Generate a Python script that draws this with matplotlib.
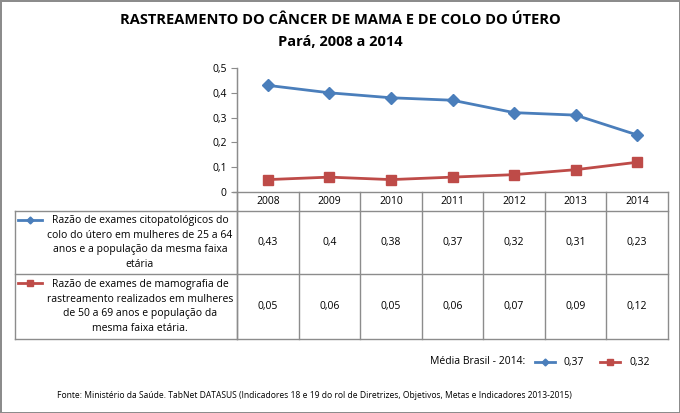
import matplotlib
matplotlib.use("Agg")
import matplotlib.pyplot as plt
import numpy as np

plt.rcParams['font.family'] = ['Open Sans', 'DejaVu Sans']

# data
anos = ["2008", "2009", "2010", "2011", "2012", "2013", "2014"]
citopatologico = [0.43, 0.40, 0.38, 0.37, 0.32, 0.31, 0.23]
mamografia = [0.05, 0.06, 0.05, 0.06, 0.07, 0.09, 0.12]
rotulos = ["Razão de exames citopatológicos do\ncolo do útero em mulheres de 25 a 64\nanos e a população da mesma faixa\netária",
           "Razão de exames de mamografia de\nrastreamento realizados em mulheres\nde 50 a 69 anos e população da\nmesma faixa etária."]
media_brasil = [0.37, 0.32]
azul = "#4A7EBB"
vermelho = "#BE4B48"
cinza = "#8C8C8C"

W, H = 680, 413
fig = plt.figure(figsize=(W / 100, H / 100), dpi=100)
fig.patch.set_edgecolor(cinza)
fig.patch.set_linewidth(2)

def fx(px):
    return px / W

def fy(py):
    return 1 - py / H

# plot area (pixel layout)
x0, x1 = 237, 668
ytop, ybase = 68, 192
ax = fig.add_axes([fx(x0), fy(ybase), fx(x1) - fx(x0), fy(ytop) - fy(ybase)])
x = np.arange(len(anos))
ax.plot(x, citopatologico, color=azul, lw=2, marker="D", ms=6)
ax.plot(x, mamografia, color=vermelho, lw=2, marker="s", ms=7)
ax.set_xlim(-0.5, len(anos) - 0.5)
ax.set_ylim(0, 0.5)
ax.set_yticks(np.arange(0, 0.51, 0.1))
ax.set_yticklabels([("%.1f" % v).replace(".", ",") if v > 0 else "0" for v in np.arange(0, 0.51, 0.1)])
ax.set_xticks([])
for s in ["top", "right", "bottom"]:
    ax.spines[s].set_visible(False)
ax.spines["left"].set_color(cinza)
ax.tick_params(axis="y", colors=cinza, labelcolor="black", labelsize=7.5, length=4, direction="out")
ax.patch.set_alpha(0)

# overlay in pixel coordinates for the data table
ov = fig.add_axes([0, 0, 1, 1])
ov.set_xlim(0, W)
ov.set_ylim(H, 0)
ov.axis("off")
ov.patch.set_alpha(0)

col_w = (x1 - x0) / len(anos)
y_head, y_r1, y_r2, y_end = 192, 211, 274, 339
lx = 15
for yy, xs in [(y_head, x0 - 4), (y_r1, lx), (y_r2, lx), (y_end, lx)]:
    ov.plot([xs, x1], [yy, yy], color=cinza, lw=1)
for i in range(len(anos) + 1):
    xx = x0 + i * col_w
    ov.plot([xx, xx], [y_head, y_end], color=cinza, lw=1)
ov.plot([lx, lx], [y_r1, y_end], color=cinza, lw=1)
ov.plot([x0, x0], [ytop, y_end], color=cinza, lw=1)

for i, ano in enumerate(anos):
    cx = x0 + (i + 0.5) * col_w
    ov.text(cx, (y_head + y_r1) / 2, ano, ha="center", va="center", fontsize=7.5)
    ov.text(cx, (y_r1 + y_r2) / 2, ("%g" % citopatologico[i]).replace(".", ","),
            ha="center", va="center", fontsize=7.5)
    ov.text(cx, (y_r2 + y_end) / 2, ("%g" % mamografia[i]).replace(".", ","),
            ha="center", va="center", fontsize=7.5)

for (ya, yb), rot, cor, mk in [((y_r1, y_r2), rotulos[0], azul, "D"),
                               ((y_r2, y_end), rotulos[1], vermelho, "s")]:
    ov.text(140, (ya + yb) / 2, rot, ha="center", va="center", fontsize=7.5,
            linespacing=1.45)
    ov.plot([18, 42], [ya + 9, ya + 9], color=cor, lw=2)
    ov.plot([30], [ya + 9], color=cor, marker=mk, ms=3.5 if mk == "D" else 5)

# legend line "Média Brasil - 2014"
ly = 362
ov.text(525, ly, "Média Brasil - 2014:", ha="right", va="center", fontsize=7.5)
for (xa, cor, mk, val) in [(535, azul, "D", media_brasil[0]), (600, vermelho, "s", media_brasil[1])]:
    ov.plot([xa, xa + 20], [ly, ly], color=cor, lw=2)
    ov.plot([xa + 10], [ly], color=cor, marker=mk, ms=3.5 if mk == "D" else 5)
    ov.text(xa + 29, ly, ("%g" % val).replace(".", ","), ha="left", va="center", fontsize=7.5)

fig.text(fx(340), fy(20), "RASTREAMENTO DO CÂNCER DE MAMA E DE COLO DO ÚTERO",
         ha="center", va="center", fontsize=10.5, fontweight="bold")
fig.text(fx(340), fy(42), "Pará, 2008 a 2014", ha="center", va="center",
         fontsize=10.5, fontweight="bold")
fig.text(fx(314), fy(396), "Fonte: Ministério da Saúde. TabNet DATASUS (Indicadores 18 e 19 do rol de Diretrizes, Objetivos, Metas e Indicadores 2013-2015)",
         ha="center", va="center", fontsize=6.15)

fig.savefig("out.png", dpi=100)
